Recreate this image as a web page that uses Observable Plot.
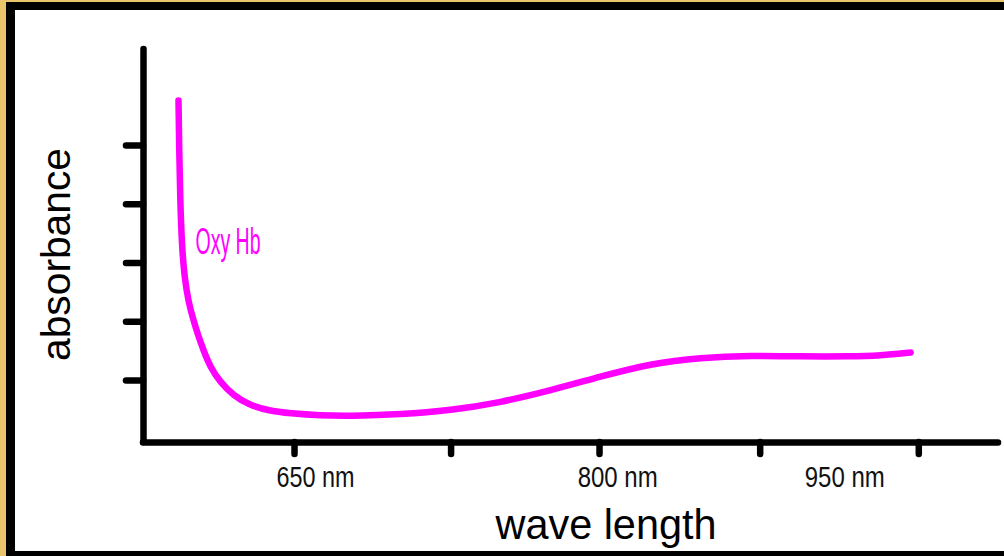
<!DOCTYPE html>
<html>
<head>
<meta charset="utf-8">
<script src="https://cdn.jsdelivr.net/npm/d3@7"></script>
<script src="https://cdn.jsdelivr.net/npm/@observablehq/plot@0.6"></script>
<style>
  html, body { margin: 0; padding: 0; }
  body { width: 1004px; height: 556px; background: #e9c46a; position: relative; overflow: hidden; }
  #outer { position: absolute; left: 6px; top: 2px; width: 998px; height: 554px; background: #000; }
  #inner { position: absolute; left: 15px; top: 10px; width: 989px; height: 541px; background: #fff; }
  #chart { position: absolute; left: 0; top: 0; }
</style>
</head>
<body>
<div id="outer"></div>
<div id="inner"></div>
<div id="chart"></div>
<script>
// Series: Oxy Hb absorbance vs wavelength (nm)
const wavelength = [592.95, 593.3, 593.8, 594.6, 595.9, 597.9, 600.2, 602.3, 605.25, 608.69, 613.61, 620, 627.38, 636.72, 648.03, 662.79, 677.54, 702.13, 726.72, 751.31, 775.9, 800.49, 825.09, 849.68, 874.27, 898.86, 923.45, 938.21, 952.96];
const absorbance = [5.766, 4.915, 4.064, 3.3, 2.75, 2.33, 2.04, 1.8, 1.511, 1.221, 0.966, 0.745, 0.591, 0.489, 0.438, 0.404, 0.396, 0.421, 0.489, 0.626, 0.83, 1.068, 1.289, 1.391, 1.426, 1.409, 1.409, 1.426, 1.477];
const seriesName = "Oxy Hb";
const seriesLabelAt = [617.3, 3.36];

// Axes
const xTicks = [650, 727, 800, 879, 957];
const xTickLabels = ["650 nm", "800 nm", "950 nm"];
const xTickLabelAt = [660.3, 808.9, 920.6];
const yTicks = [1, 2, 3, 4, 5];
const xDomain = [575.74, 996.2];
const yDomain = [-0.0553, 6.634];
const xTitle = "wave length";
const yTitle = "absorbance";

const data = wavelength.map((w, i) => ({w, a: absorbance[i]}));
const font = "'Liberation Sans', Arial, sans-serif";

const plot = Plot.plot({
  width: 1004,
  height: 556,
  marginLeft: 143,
  marginRight: 6,
  marginTop: 49,
  marginBottom: 114,
  style: {background: "transparent", fontFamily: font},
  x: {domain: xDomain, axis: null},
  y: {domain: yDomain, axis: null},
  marks: [
    Plot.axisY(yTicks, {anchor: "left", tickSize: 17, tickFormat: () => "", label: null, stroke: "#000", strokeWidth: 6.5, strokeLinecap: "round"}),
    Plot.axisX(xTicks, {anchor: "bottom", tickSize: 12, tickFormat: () => "", label: null, stroke: "#000", strokeWidth: 6.5, strokeLinecap: "round"}),
    Plot.ruleX([xDomain[0]], {stroke: "#000", strokeWidth: 6.5, strokeLinecap: "round"}),
    Plot.ruleY([yDomain[0]], {stroke: "#000", strokeWidth: 6.5, strokeLinecap: "round"}),
    Plot.line(data, {x: "w", y: "a", curve: "basis", stroke: "#ff00ff", strokeWidth: 6.5, strokeLinecap: "round", strokeLinejoin: "round"}),
    Plot.text(xTickLabels, {x: (d, i) => xTickLabelAt[i], frameAnchor: "bottom", lineAnchor: "middle", dy: 35.5, text: d => d, fontSize: 29, fill: "#111", textAnchor: "middle"}),
    Plot.text([xTitle], {frameAnchor: "bottom", lineAnchor: "middle", textAnchor: "middle", dx: 35, dy: 82.6, text: d => d, fontSize: 42, fill: "#000"}),
    Plot.text([yTitle], {frameAnchor: "left", lineAnchor: "middle", textAnchor: "middle", dx: -86, dy: 8.5, rotate: -90, text: d => d, fontSize: 40, fill: "#000"}),
    Plot.text([seriesName], {x: () => seriesLabelAt[0], y: () => seriesLabelAt[1], lineAnchor: "middle", textAnchor: "middle", text: d => d, fontSize: 37, fill: "#ff00ff"})
  ]
});

const widths = {"650 nm": 78, "800 nm": 80, "950 nm": 80, "wave length": 221, "absorbance": 213, "Oxy Hb": 65};
d3.select(plot).selectAll("text").each(function() {
  const t = this.textContent;
  if (widths[t]) {
    this.setAttribute("textLength", widths[t]);
    this.setAttribute("lengthAdjust", "spacingAndGlyphs");
  }
});
document.getElementById("chart").appendChild(plot);
</script>
</body>
</html>
